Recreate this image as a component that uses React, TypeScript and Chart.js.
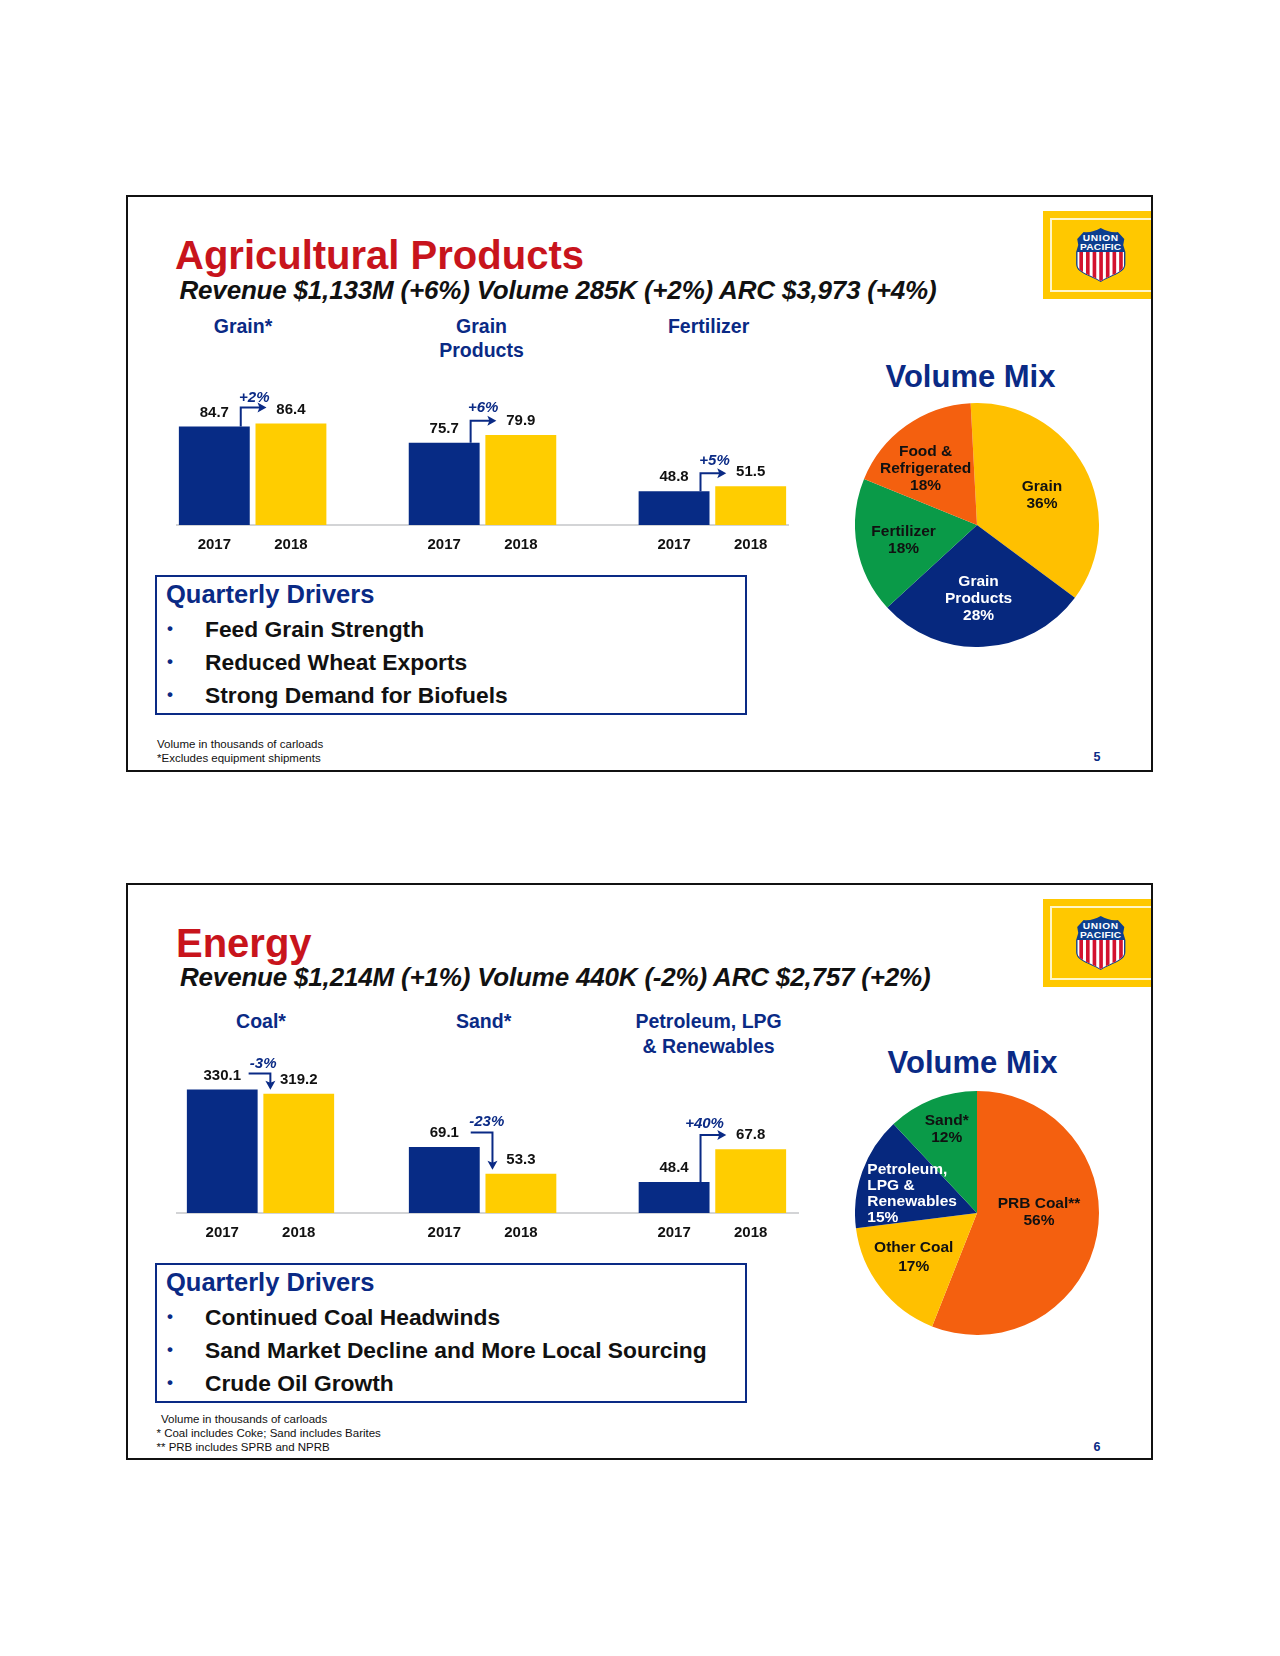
import React, { useEffect, useRef } from "react";
import { Chart, registerables } from "chart.js";

Chart.register(...registerables);

const SANS = '"Liberation Sans", Arial, sans-serif';
const BLUE = "#0a2a85";
const BAR_BLUE = "#072b85";
const BAR_YELLOW = "#ffcd00";
const RED = "#c8141c";
const PIE_YELLOW = "#ffc000";
const PIE_BLUE = "#06287e";
const PIE_GREEN = "#0a9a48";
const PIE_ORANGE = "#f4600f";

// ---- Agricultural Products ----
const agLabels = ["2017", "2018", "", "2017", "2018", "", "2017", "2018"];
const agValues = [84.7, 86.4, null, 75.7, 79.9, null, 48.8, 51.5];
const agMixLabels = [["Grain", "36%"], ["Grain", "Products", "28%"], ["Fertilizer", "18%"], ["Food &", "Refrigerated", "18%"]];
const agMixValues = [36, 28, 18, 18];
const agMixColors = [PIE_YELLOW, PIE_BLUE, PIE_GREEN, PIE_ORANGE];
const agMixText = ["#111", "#fff", "#111", "#111"];
const agMixOffsets = [[65, -38], [1.6, 57], [-73.4, 6.7], [-51.4, -73.3]];
const agMixGaps = [17, 17, 17, 17];
const agChanges = [
  { text: "+2%", from: 0, to: 1, rise: 19, sink: 0, labelDx: 4.5, labelDy: -10 },
  { text: "+6%", from: 3, to: 4, rise: 22, sink: 0, labelDx: 3.5, labelDy: -13 },
  { text: "+5%", from: 6, to: 7, rise: 18, sink: 0, labelDx: 5, labelDy: -12 },
];
const agDrivers = ["Feed Grain Strength", "Reduced Wheat Exports", "Strong Demand for Biofuels"];

// ---- Energy ----
const coalLabels = ["2017", "2018"];
const coalValues = [330.1, 319.2];
const coalChanges = [{ text: "-3%", from: 0, to: 1, rise: 16, sink: 0, labelDx: 5.5, labelDy: -10 }];
const sandPetroLabels = ["2017", "2018", "", "2017", "2018"];
const sandPetroValues = [69.1, 53.3, null, 48.4, 67.8];
const sandPetroChanges = [
  { text: "-23%", from: 0, to: 1, rise: 14.5, sink: 0, labelDx: 7, labelDy: -11 },
  { text: "+40%", from: 3, to: 4, rise: 47, sink: 10, labelDx: -5, labelDy: -11 },
];
const energyMixLabels = [["PRB Coal**", "56%"], ["Other Coal", "17%"], ["Petroleum,", "LPG &", "Renewables", "15%"], ["Sand*", "12%"]];
const energyMixValues = [56, 17, 15, 12];
const energyMixColors = [PIE_ORANGE, PIE_YELLOW, PIE_BLUE, PIE_GREEN];
const energyMixText = ["#111", "#111", "#fff", "#111"];
const energyMixOffsets = [[62, -9.4], [-63.3, 34.6], [-109.7, -43.7], [-30.3, -92.7]];
const energyMixAlign = ["center", "center", "left", "center"];
const energyMixGaps = [17, 19, 16, 17.7];
const energyDrivers = ["Continued Coal Headwinds", "Sand Market Decline and More Local Sourcing", "Crude Oil Growth"];

type Change = { text: string; from: number; to: number; rise: number; sink: number; labelDx: number; labelDy: number };

function arrowHead(ctx: CanvasRenderingContext2D, x: number, y: number, dir: "right" | "down") {
  ctx.beginPath();
  if (dir === "right") {
    ctx.moveTo(x, y);
    ctx.lineTo(x - 9, y - 5);
    ctx.lineTo(x - 7, y);
    ctx.lineTo(x - 9, y + 5);
  } else {
    ctx.moveTo(x, y);
    ctx.lineTo(x - 5, y - 9);
    ctx.lineTo(x, y - 7);
    ctx.lineTo(x + 5, y - 9);
  }
  ctx.closePath();
  ctx.fill();
}

function barNotes(changes: Change[]) {
  return {
    id: "barNotes",
    beforeDatasetsDraw(chart: any) {
      const ctx = chart.ctx;
      const y = chart.scales.x.top;
      ctx.save();
      ctx.strokeStyle = "#c4c6c8";
      ctx.lineWidth = 1.5;
      ctx.beginPath();
      ctx.moveTo(0, y);
      ctx.lineTo(chart.width, y);
      ctx.stroke();
      ctx.restore();
    },
    afterDatasetsDraw(chart: any) {
      const ctx = chart.ctx;
      const bars = chart.getDatasetMeta(0).data;
      const values = chart.data.datasets[0].data;
      ctx.save();
      ctx.textAlign = "center";
      ctx.textBaseline = "middle";
      ctx.font = `bold 15px ${SANS}`;
      ctx.fillStyle = "#111";
      values.forEach((v: number | null, i: number) => {
        if (v == null) return;
        ctx.fillText(v.toFixed(1), bars[i].x, bars[i].y - 14);
      });
      ctx.strokeStyle = BLUE;
      ctx.fillStyle = BLUE;
      ctx.lineWidth = 2;
      changes.forEach((c) => {
        const a = bars[c.from];
        const b = bars[c.to];
        const startX = a.x + a.width / 2 - 9;
        const level = a.y - c.rise;
        ctx.beginPath();
        if (c.text.startsWith("+")) {
          const endX = b.x - b.width / 2 + 11;
          ctx.moveTo(startX, a.y + c.sink);
          ctx.lineTo(startX, level);
          ctx.lineTo(endX - 4, level);
          ctx.stroke();
          arrowHead(ctx, endX, level, "right");
        } else {
          const cornerX = b.x - b.width / 2 + 7;
          const tip = b.y - 4;
          ctx.moveTo(startX, level);
          ctx.lineTo(cornerX, level);
          ctx.lineTo(cornerX, tip - 4);
          ctx.stroke();
          arrowHead(ctx, cornerX, tip, "down");
        }
        ctx.font = `italic bold 15px ${SANS}`;
        ctx.fillText(c.text, a.x + a.width / 2 + c.labelDx, level + c.labelDy);
      });
      ctx.restore();
    },
  };
}

function pieNotes(labels: string[][], colors: string[], offsets: number[][], gaps: number[], aligns?: string[]) {
  return {
    id: "pieNotes",
    afterDatasetsDraw(chart: any) {
      const ctx = chart.ctx;
      const arc = chart.getDatasetMeta(0).data[0];
      ctx.save();
      ctx.font = `bold 15.5px ${SANS}`;
      ctx.textBaseline = "middle";
      labels.forEach((lines, i) => {
        ctx.fillStyle = colors[i];
        ctx.textAlign = aligns ? aligns[i] : "center";
        lines.forEach((line, j) => {
          ctx.fillText(line, arc.x + offsets[i][0], arc.y + offsets[i][1] + j * gaps[i]);
        });
      });
      ctx.restore();
    },
  };
}

type BarProps = {
  left: number; top: number; width: number; height: number;
  labels: string[]; values: (number | null)[]; min: number; max: number;
  changes: Change[]; padLeft?: number; padRight?: number; catPct?: number;
};

function BarPanel(p: BarProps) {
  const ref = useRef<HTMLCanvasElement>(null);
  useEffect(() => {
    const chart = new Chart(ref.current!, {
      type: "bar",
      data: {
        labels: p.labels,
        datasets: [{
          data: p.values as any,
          backgroundColor: p.labels.map((l) => (l === "2017" ? BAR_BLUE : BAR_YELLOW)),
          barPercentage: 1,
          categoryPercentage: p.catPct ?? 0.925,
          borderWidth: 0,
        }],
      },
      options: {
        animation: false,
        responsive: false,
        layout: { padding: { left: p.padLeft ?? 0, right: p.padRight ?? 0, top: 0, bottom: 0 } },
        plugins: { legend: { display: false }, tooltip: { enabled: false } },
        scales: {
          x: {
            grid: { display: false, drawTicks: false },
            border: { display: false },
            afterFit: (s: any) => { s.height = 34; },
            ticks: {
              autoSkip: false, maxRotation: 0, padding: 11, color: "#111",
              font: { family: SANS, size: 15, weight: "bold" },
            },
          },
          y: { display: false, min: p.min, max: p.max },
        },
      },
      plugins: [barNotes(p.changes)],
    });
    return () => chart.destroy();
  }, []);
  return <canvas ref={ref} width={p.width} height={p.height}
    style={{ position: "absolute", left: p.left, top: p.top, width: p.width, height: p.height }} />;
}

type PieProps = {
  left: number; top: number; size: number; values: number[]; colors: string[]; rotation: number;
  labels: string[][]; textColors: string[]; offsets: number[][]; gaps: number[]; aligns?: string[];
};

function PiePanel(p: PieProps) {
  const ref = useRef<HTMLCanvasElement>(null);
  useEffect(() => {
    const chart = new Chart(ref.current!, {
      type: "pie",
      data: {
        labels: p.labels.map((l) => l.join(" ")),
        datasets: [{ data: p.values, backgroundColor: p.colors, borderWidth: 0 }],
      },
      options: {
        animation: false,
        responsive: false,
        rotation: p.rotation,
        plugins: { legend: { display: false }, tooltip: { enabled: false } },
      },
      plugins: [pieNotes(p.labels, p.textColors, p.offsets, p.gaps, p.aligns)],
    });
    return () => chart.destroy();
  }, []);
  return <canvas ref={ref} width={p.size} height={p.size}
    style={{ position: "absolute", left: p.left, top: p.top, width: p.size, height: p.size }} />;
}

function T({ x, y, s, w = "bold", c = "#111", a = "left", i = false, ls = 0, children }: any) {
  const style: React.CSSProperties = {
    position: "absolute", top: y - 20, height: 40, lineHeight: "40px", fontFamily: SANS,
    fontSize: s, fontWeight: w, color: c, whiteSpace: "pre", fontStyle: i ? "italic" : "normal", letterSpacing: ls,
  };
  if (a === "left") style.left = x;
  else { style.left = x - 400; style.width = 800; style.textAlign = "center"; }
  return <div style={style}>{children}</div>;
}

function Logo({ top }: { top: number }) {
  const stripes = [0, 1, 2, 3, 4, 5, 6];
  return (
    <>
      <div style={{ position: "absolute", left: 1043, top, width: 108, height: 88, background: "#ffc800" }} />
      <div style={{ position: "absolute", left: 1050, top: top + 7, width: 101, height: 74, borderTop: "2px solid #fff6c8", borderLeft: "2px solid #fff6c8", borderBottom: "2px solid #fff6c8", boxSizing: "border-box" }} />
      <svg style={{ position: "absolute", left: 1074, top: top + 16 }} width="53.5" height="56" viewBox="0 0 50 56" preserveAspectRatio="none">
        <defs>
          <clipPath id={`low${top}`}>
            <path d="M3 25 H47 V37 C47 45 36 47 25 54 C14 47 3 45 3 37 Z" />
          </clipPath>
        </defs>
        <path d="M9 5 C14 6 20 4 25 1 C30 4 36 6 41 5 L47 12 L46 18 L48 25 V37 C48 46 36 48 25 55 C14 48 2 46 2 37 V25 L4 18 L3 12 Z" fill="#0d3f8f" />
        <rect x="3" y="25" width="44" height="30" fill="#fff" clipPath={`url(#low${top})`} />
        {stripes.map((n) => (
          <rect key={n} x={5 + n * 6.2} y="25" width="3.4" height="30" fill="#d3122f" clipPath={`url(#low${top})`} />
        ))}
        <text x="25" y="14" textAnchor="middle" fontFamily={SANS} fontWeight="bold" fontSize="9.5" fill="#fff" letterSpacing="0.6">UNION</text>
        <text x="25" y="23" textAnchor="middle" fontFamily={SANS} fontWeight="bold" fontSize="9.5" fill="#fff" letterSpacing="0.2">PACIFIC</text>
      </svg>
    </>
  );
}

function Frame({ top, height }: { top: number; height: number }) {
  return <div style={{ position: "absolute", left: 126, top, width: 1027, height, border: "2.5px solid #111", boxSizing: "border-box" }} />;
}

function Drivers({ top, height, items, ys, headY }: { top: number; height: number; items: string[]; ys: number[]; headY: number }) {
  return (
    <>
      <div style={{ position: "absolute", left: 155, top, width: 592, height, border: "2px solid #0a2a85", boxSizing: "border-box" }} />
      <T x={166} y={headY} s={25.5} c={BLUE}>Quarterly Drivers</T>
      {items.map((t, i) => (
        <React.Fragment key={t}>
          <T x={167} y={ys[i]} s={17} c={BLUE}>•</T>
          <T x={205} y={ys[i]} s={22.8}>{t}</T>
        </React.Fragment>
      ))}
    </>
  );
}

export default function App() {
  return (
    <div style={{ position: "absolute", left: 0, top: 0, width: 1280, height: 1656, background: "#fff", overflow: "hidden" }}>
      <Frame top={195} height={577} />
      <Logo top={211} />
      <T x={175} y={255} s={40} c={RED}>Agricultural Products</T>
      <T x={179.5} y={290} s={26} i ls={-0.19}>Revenue $1,133M (+6%) Volume 285K (+2%) ARC $3,973 (+4%)</T>
      <T x={243} y={326} s={19.5} c={BLUE} a="center">Grain*</T>
      <T x={481.5} y={326} s={19.5} c={BLUE} a="center">Grain</T>
      <T x={481.5} y={350} s={19.5} c={BLUE} a="center">Products</T>
      <T x={708.6} y={326} s={19.5} c={BLUE} a="center">Fertilizer</T>
      <T x={970.5} y={377} s={31} c={BLUE} a="center">Volume Mix</T>
      <BarPanel left={176} top={380} width={613} height={179} labels={agLabels} values={agValues} min={30} max={110.5} changes={agChanges} />
      <PiePanel left={855} top={403} size={244} values={agMixValues} colors={agMixColors} rotation={-3} labels={agMixLabels} textColors={agMixText} offsets={agMixOffsets} gaps={agMixGaps} />
      <Drivers top={575} height={140} items={agDrivers} ys={[629, 662, 695]} headY={594} />
      <T x={157} y={744} s={11.5} w="normal">Volume in thousands of carloads</T>
      <T x={157} y={757.5} s={11.5} w="normal">*Excludes equipment shipments</T>
      <T x={1097} y={757} s={12.5} c={BLUE} a="center">5</T>

      <Frame top={883} height={577} />
      <Logo top={899} />
      <T x={176} y={943} s={40} c={RED}>Energy</T>
      <T x={180} y={977} s={26} i ls={-0.19}>Revenue $1,214M (+1%) Volume 440K (-2%) ARC $2,757 (+2%)</T>
      <T x={261} y={1021} s={19.5} c={BLUE} a="center">Coal*</T>
      <T x={483.6} y={1021} s={19.5} c={BLUE} a="center">Sand*</T>
      <T x={708.6} y={1021} s={19.5} c={BLUE} a="center">Petroleum, LPG</T>
      <T x={708.6} y={1045.5} s={19.5} c={BLUE} a="center">&amp; Renewables</T>
      <T x={972.6} y={1063} s={31} c={BLUE} a="center">Volume Mix</T>
      <BarPanel left={176} top={1050} width={230} height={197} labels={coalLabels} values={coalValues} min={0} max={436} changes={coalChanges} padLeft={8} padRight={69} />
      <BarPanel left={406} top={1090} width={393} height={157} labels={sandPetroLabels} values={sandPetroValues} min={30} max={103} changes={sandPetroChanges} padRight={10} />
      <PiePanel left={855} top={1091} size={244} values={energyMixValues} colors={energyMixColors} rotation={0} labels={energyMixLabels} textColors={energyMixText} offsets={energyMixOffsets} gaps={energyMixGaps} aligns={energyMixAlign} />
      <Drivers top={1263} height={140} items={energyDrivers} ys={[1317, 1350, 1383]} headY={1282} />
      <T x={161} y={1419} s={11.5} w="normal">Volume in thousands of carloads</T>
      <T x={156.5} y={1432.7} s={11.5} w="normal">* Coal includes Coke; Sand includes Barites</T>
      <T x={156.5} y={1446.7} s={11.5} w="normal">** PRB includes SPRB and NPRB</T>
      <T x={1097} y={1447} s={12.5} c={BLUE} a="center">6</T>
    </div>
  );
}
